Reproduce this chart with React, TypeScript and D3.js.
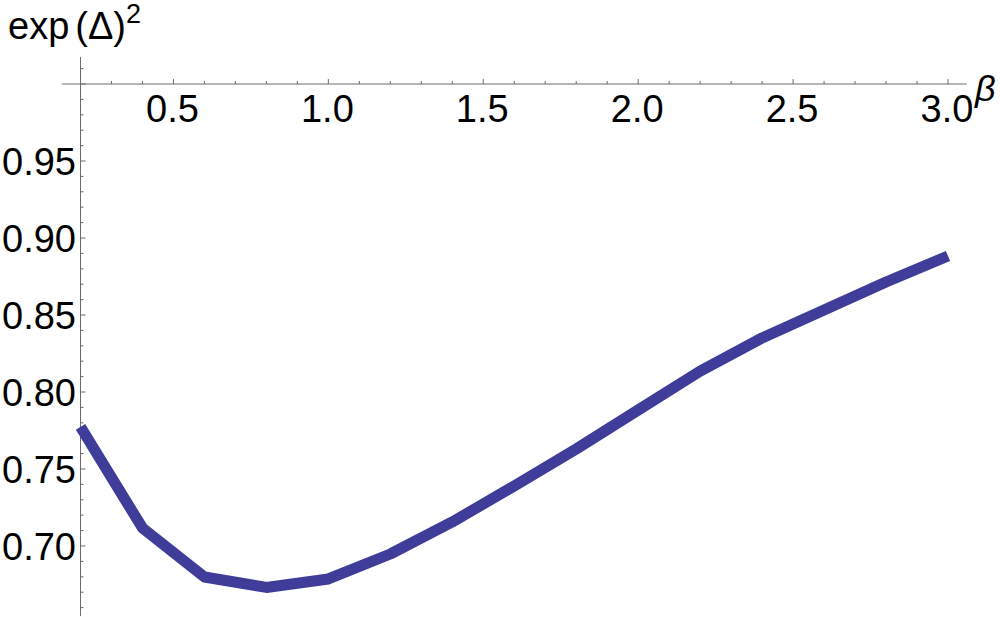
import React from "react";
import * as d3 from "d3";

const betaValues = [0.2, 0.4, 0.6, 0.8, 1.0, 1.2, 1.4, 1.6, 1.8, 2.0, 2.2, 2.4, 2.6, 2.8, 3.0];
const expDelta2 = [0.7773, 0.7117, 0.6799, 0.6731, 0.6786, 0.6948, 0.7156, 0.739, 0.763, 0.7883, 0.8136, 0.8351, 0.8532, 0.8714, 0.8883];
const xMajorTicks = [0.5, 1.0, 1.5, 2.0, 2.5, 3.0];
const xTickLabels = ["0.5", "1.0", "1.5", "2.0", "2.5", "3.0"];
const yMajorTicks = [0.7, 0.75, 0.8, 0.85, 0.9, 0.95];
const yTickLabels = ["0.70", "0.75", "0.80", "0.85", "0.90", "0.95"];

const W = 1000;
const H = 617;
const FONT = "'Liberation Sans', Arial, Helvetica, sans-serif";
const AXIS = "#6b6b6b";

export default function App() {
  const x = d3.scaleLinear().domain([0.2, 3.0]).range([80.5, 948]);
  const y = d3.scaleLinear().domain([0.7, 0.95]).range([546, 161]);

  const xAxisY = y(1.0);
  const yAxisX = x(0.2);
  const xMin = 0.14, xMax = 3.06;
  const yMin = 0.6545, yMax = 1.0175;

  const xMinor = d3.range(3, 31).map((i) => i / 10).filter((v) => v >= xMin && v <= xMax);
  const yMinor = d3.range(66, 102).map((i) => i / 100).filter((v) => v >= yMin && v <= yMax);

  const line = d3
    .line<number>()
    .x((_, i) => x(betaValues[i]))
    .y((d) => y(d));

  const isMajorX = (v: number) => xMajorTicks.some((t) => Math.abs(t - v) < 1e-6);
  const isMajorY = (v: number) => Math.abs(Math.round(v * 20) - v * 20) < 1e-6;

  return (
    <svg
      width={W}
      height={H}
      viewBox={`0 0 ${W} ${H}`}
      style={{ position: "absolute", left: 0, top: 0, background: "#fff" }}
    >
      <rect x={0} y={0} width={W} height={H} fill="#fff" />
      {/* axes */}
      <line x1={x(xMin)} x2={x(xMax)} y1={xAxisY} y2={xAxisY} stroke={AXIS} strokeWidth={1} />
      <line x1={yAxisX} x2={yAxisX} y1={y(yMax)} y2={y(yMin)} stroke={AXIS} strokeWidth={1} />
      {/* x ticks */}
      {xMinor.map((v) => (
        <line
          key={`xt${v}`}
          x1={x(v)}
          x2={x(v)}
          y1={xAxisY}
          y2={xAxisY - (isMajorX(v) ? 5 : 3)}
          stroke={AXIS}
          strokeWidth={1}
        />
      ))}
      {/* y ticks */}
      {yMinor.map((v) => (
        <line
          key={`yt${v}`}
          x1={yAxisX}
          x2={yAxisX + (isMajorY(v) ? 5 : 3)}
          y1={y(v)}
          y2={y(v)}
          stroke={AXIS}
          strokeWidth={1}
        />
      ))}
      {/* x tick labels */}
      {xMajorTicks.map((v, i) => (
        <text
          key={`xl${v}`}
          x={x(v) - 1}
          y={122}
          textAnchor="middle"
          fontFamily={FONT}
          fontSize={38}
          fill="#000"
        >
          {xTickLabels[i]}
        </text>
      ))}
      {/* y tick labels */}
      {yMajorTicks.map((v, i) => (
        <text
          key={`yl${v}`}
          x={76}
          y={y(v) + 13.5}
          textAnchor="end"
          fontFamily={FONT}
          fontSize={38}
          fill="#000"
        >
          {yTickLabels[i]}
        </text>
      ))}
      {/* data line */}
      <path
        d={line(expDelta2) || ""}
        fill="none"
        stroke="#3f3c9a"
        strokeWidth={11}
        strokeLinejoin="round"
        strokeLinecap="butt"
      />
      {/* axis labels */}
      <text x={8} y={39} fontFamily={FONT} fontSize={38} fill="#000">
        exp
        <tspan dx={6}>(Δ)</tspan>
        <tspan dy={-16} fontSize={27}>2</tspan>
      </text>
      <text x={975} y={101} fontFamily={FONT} fontSize={36} fontStyle="italic" fill="#000">
        β
      </text>
    </svg>
  );
}
